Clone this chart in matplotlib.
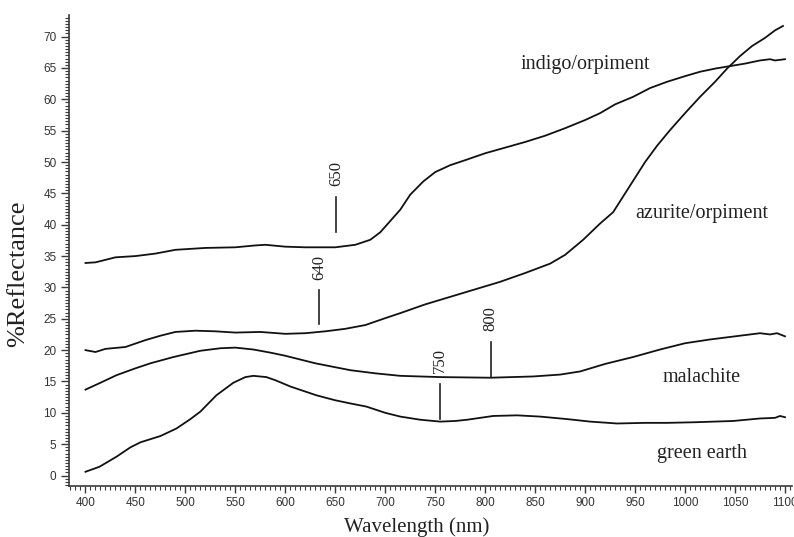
import matplotlib
matplotlib.use("Agg")
import matplotlib.pyplot as plt
from matplotlib.ticker import MultipleLocator

# ---- data ----
indigo_wl = [400, 410, 420, 430, 450, 470, 490, 520, 550, 570, 580, 600, 620, 650, 670,
             685, 695, 705, 715, 725, 738, 750, 765, 780, 800, 820, 840, 860, 880, 900,
             915, 930, 948, 965, 982, 1000, 1015, 1030, 1045, 1060, 1075, 1085, 1090, 1100]
indigo_r = [33.9, 34.0, 34.4, 34.8, 35.0, 35.4, 36.0, 36.3, 36.4, 36.7, 36.8, 36.5, 36.4, 36.4, 36.8,
            37.6, 38.8, 40.6, 42.4, 44.8, 46.9, 48.4, 49.5, 50.3, 51.4, 52.3, 53.2, 54.2, 55.4, 56.7,
            57.8, 59.2, 60.4, 61.8, 62.8, 63.7, 64.4, 64.9, 65.3, 65.7, 66.2, 66.4, 66.2, 66.4]

azurite_wl = [400, 410, 420, 440, 460, 475, 490, 510, 530, 550, 575, 600, 620, 640, 660,
              680, 700, 715, 740, 765, 790, 815, 840, 865, 880, 898, 915, 928, 940, 950,
              960, 972, 985, 1000, 1015, 1030, 1042, 1055, 1067, 1080, 1090, 1098]
azurite_r = [20.0, 19.7, 20.2, 20.5, 21.6, 22.3, 22.9, 23.1, 23.0, 22.8, 22.9, 22.6, 22.7, 23.0, 23.4,
             24.0, 25.1, 25.9, 27.3, 28.5, 29.7, 30.9, 32.3, 33.8, 35.2, 37.6, 40.2, 42.0, 45.0, 47.5,
             50.0, 52.6, 55.1, 57.8, 60.4, 62.8, 64.9, 66.9, 68.5, 69.8, 71.0, 71.7]

malachite_wl = [400, 415, 431, 450, 465, 488, 515, 535, 550, 568, 585, 600, 630, 665, 690,
                715, 755, 805, 848, 875, 895, 920, 948, 975, 1000, 1025, 1050, 1075, 1085, 1092, 1100]
malachite_r = [13.7, 14.8, 16.0, 17.1, 17.9, 18.9, 19.9, 20.3, 20.4, 20.1, 19.6, 19.1, 17.9, 16.8, 16.3,
               15.9, 15.7, 15.6, 15.8, 16.1, 16.6, 17.8, 18.9, 20.1, 21.1, 21.7, 22.2, 22.7, 22.5, 22.7, 22.2]

green_wl = [400, 414, 431, 445, 455, 475, 491, 505, 515, 531, 548, 560, 568, 581, 590,
            605, 631, 650, 665, 681, 700, 715, 735, 755, 770, 782, 808, 832, 855, 882,
            905, 932, 960, 982, 1010, 1048, 1075, 1090, 1095, 1100]
green_r = [0.6, 1.4, 3.0, 4.5, 5.3, 6.3, 7.5, 9.0, 10.2, 12.8, 14.8, 15.7, 15.9, 15.7, 15.2,
           14.2, 12.8, 12.0, 11.5, 11.0, 10.0, 9.4, 8.9, 8.6, 8.7, 8.9, 9.5, 9.6, 9.4, 9.0,
           8.6, 8.3, 8.4, 8.4, 8.5, 8.7, 9.1, 9.2, 9.5, 9.3]

series_names = ["indigo/orpiment", "azurite/orpiment", "malachite", "green earth"]
name_x = [900, 1017, 1017, 1017]
name_y = [65.5, 41.8, 15.7, 3.5]

ann_labels = ["650", "640", "800", "750"]
ann_x = [650.5, 634, 805.5, 754.7]
ann_y0 = [38.9, 24.1, 15.7, 9.0]
ann_y1 = [44.5, 29.6, 21.3, 14.6]
ann_text_y = [48.2, 33.2, 25.0, 18.3]

xticks = list(range(400, 1101, 50))
yticks = list(range(0, 71, 5))

# ---- plotting ----
SERIF = ["Liberation Serif", "DejaVu Serif"]
SANS = ["Liberation Sans", "DejaVu Sans"]
AXC = "#3a3a3a"

fig = plt.figure(figsize=(7.94, 5.37), dpi=100)
ax = fig.add_axes([69 / 794, 1 - 486 / 537, 723 / 794, 471 / 537])

line_kw = dict(color="#111111", lw=1.3)
ax.plot(indigo_wl, indigo_r, **line_kw)
ax.plot(azurite_wl, azurite_r, **line_kw)
ax.plot(malachite_wl, malachite_r, **line_kw)
ax.plot(green_wl, green_r, **line_kw)

for lab, x, y0, y1, ty in zip(ann_labels, ann_x, ann_y0, ann_y1, ann_text_y):
    ax.plot([x, x], [y0, y1], color="#222222", lw=1.2)
    ax.text(x, ty, lab, rotation=90, ha="center", va="center",
            fontsize=12, family=SERIF, color="#222222")

for nm, x, y in zip(series_names, name_x, name_y):
    ax.text(x, y, nm, ha="center", va="center", fontsize=14.5,
            family=SERIF, color="#222222")

ax.set_xlim(383.5, 1107)
ax.set_ylim(-1.67, 73.45)
ax.set_xticks(xticks)
ax.set_yticks(yticks)
ax.xaxis.set_minor_locator(MultipleLocator(5))
ax.yaxis.set_minor_locator(MultipleLocator(0.5))

for s in ["top", "right"]:
    ax.spines[s].set_visible(False)
for s in ["left", "bottom"]:
    ax.spines[s].set_color(AXC)
    ax.spines[s].set_linewidth(1.2)

ax.tick_params(axis="x", which="major", direction="out", length=5, width=1, color=AXC,
               labelsize=8.5, labelcolor="#333333", pad=3)
ax.tick_params(axis="x", which="minor", direction="out", length=3, width=0.8, color=AXC)
ax.tick_params(axis="y", which="major", direction="out", length=6, width=1, color=AXC,
               labelsize=8.5, labelcolor="#333333", pad=3)
ax.tick_params(axis="y", which="minor", direction="out", length=3, width=0.8, color=AXC)
for lbl in ax.get_xticklabels() + ax.get_yticklabels():
    lbl.set_family(SANS)

fig.text(417 / 794, 1 - 527 / 537, "Wavelength (nm)", ha="center", va="center",
         fontsize=15, family=SERIF, color="#222222")
fig.text(18 / 794, 1 - 274 / 537, "%Reflectance", ha="center", va="center",
         rotation=90, fontsize=19, family=SERIF, color="#222222")

fig.savefig("out.png", dpi=100)
